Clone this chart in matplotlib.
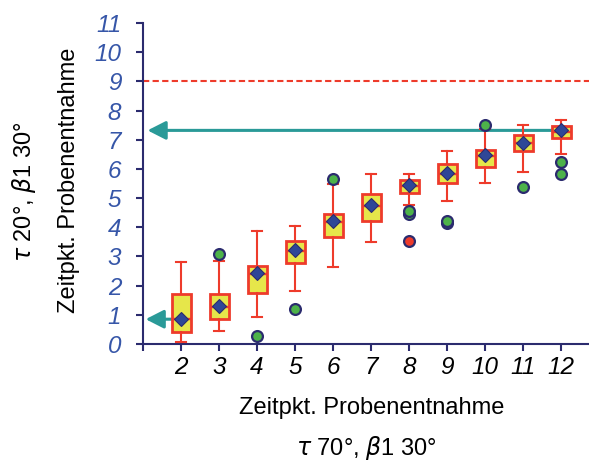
import matplotlib
matplotlib.use("Agg")
import matplotlib.pyplot as plt

# ---- data ----
positions = [2, 3, 4, 5, 6, 7, 8, 9, 10, 11, 12]
whislo = [0.07, 0.46, 0.93, 1.82, 2.65, 3.49, 4.77, 4.89, 5.51, 5.89, 6.51]
q1     = [0.41, 0.84, 1.74, 2.77, 3.67, 4.20, 5.18, 5.51, 6.08, 6.60, 7.06]
med    = [0.85, 1.28, 2.39, 3.20, 4.18, 4.72, 5.40, 5.84, 6.44, 6.88, 7.25]
q3     = [1.71, 1.71, 2.69, 3.53, 4.46, 5.14, 5.61, 6.16, 6.64, 7.16, 7.47]
whishi = [2.82, 2.83, 3.88, 4.03, 5.49, 5.82, 5.82, 6.60, 7.38, 7.50, 7.67]
means  = [0.87, 1.31, 2.42, 3.23, 4.22, 4.75, 5.44, 5.87, 6.47, 6.90, 7.32]
outliers = [[], [3.10], [0.27], [1.21], [5.67], [], [4.46, 4.57], [4.15, 4.23],
            [7.51], [5.37], [5.84, 6.25]]
red_outlier_x = [8]
red_outlier_y = [3.52]

limit_value = 9
arrow_top_y = 7.32
arrow_bottom_y = 0.85

xticks = list(range(1, 13))
xticklabels = [""] + [str(v) for v in range(2, 13)]
yticks = list(range(0, 12))

navy = "#2B2B6E"
blue_lbl = "#3656A8"
red = "#EE3B2B"
yellow = "#E6E64A"
green = "#4DB24A"
teal = "#2A9A98"
diamond = "#2E4797"

fig = plt.figure(figsize=(5.89, 4.61), dpi=100)
ax = fig.add_axes([143/589, 1 - 344/461, 1 - 143/589, (344 - 23)/461])

stats = []
for i in range(len(positions)):
    stats.append(dict(med=med[i], q1=q1[i], q3=q3[i], whislo=whislo[i],
                      whishi=whishi[i], mean=means[i], fliers=outliers[i]))

# reference lines / arrows (behind boxes)
ax.axhline(limit_value, color=red, lw=1.5, ls=(0, (3, 1.6)), zorder=1)
ax.annotate("", xy=(1.12, arrow_top_y), xytext=(positions[-1], arrow_top_y),
            arrowprops=dict(arrowstyle="-|>,head_length=0.55,head_width=0.28",
                            color=teal, lw=2.2, mutation_scale=20, shrinkA=0, shrinkB=0),
            zorder=1)
ax.annotate("", xy=(1.07, arrow_bottom_y), xytext=(positions[0], arrow_bottom_y),
            arrowprops=dict(arrowstyle="-|>,head_length=0.55,head_width=0.28",
                            color=teal, lw=2.2, mutation_scale=20, shrinkA=0, shrinkB=0),
            zorder=1)

ax.bxp(stats, positions=positions, widths=0.5, patch_artist=True, showmeans=True,
       showfliers=True, capwidths=0.27,
       boxprops=dict(facecolor=yellow, edgecolor=red, linewidth=2.0),
       medianprops=dict(color=red, linewidth=1.7),
       whiskerprops=dict(color=red, linewidth=1.5),
       capprops=dict(color=red, linewidth=1.5),
       meanprops=dict(marker="D", markerfacecolor=diamond, markeredgecolor=navy,
                      markersize=7.5, markeredgewidth=0.8),
       flierprops=dict(marker="o", markerfacecolor=green, markeredgecolor=navy,
                       markersize=7.8, markeredgewidth=1.6),
       manage_ticks=False, zorder=3)

ax.plot(red_outlier_x, red_outlier_y, ls="none", marker="o", markerfacecolor=red,
        markeredgecolor=navy, markersize=7.8, markeredgewidth=1.6, zorder=4)

ax.set_xlim(1, 1 + (589 - 143) / 38)
ax.set_ylim(0, 11)
ax.set_xticks(xticks)
ax.set_xticklabels(xticklabels, fontfamily="Liberation Sans", style="italic",
                   fontsize=17.5, color="black")
ax.set_yticks(yticks)
ax.set_yticklabels([str(v) for v in yticks], fontfamily="Liberation Sans",
                   style="italic", fontsize=17.5, color=blue_lbl)
for s in ["top", "right"]:
    ax.spines[s].set_visible(False)
for s in ["left", "bottom"]:
    ax.spines[s].set_color(navy)
    ax.spines[s].set_linewidth(1.5)
ax.tick_params(axis="both", direction="out", length=4.7, width=1.5, color=navy)
ax.tick_params(axis="x", pad=4)
ax.tick_params(axis="y", pad=11)

fig.text(372/589, 1 - 408/461, "Zeitpkt. Probenentnahme", ha="center", va="center",
         fontfamily="Liberation Sans", fontsize=17)
fig.text(366/589, 1 - 448/461, r"$\tau$ 70°, $\beta$1 30°", ha="center", va="center",
         fontfamily="Liberation Sans", fontsize=17)
fig.text(69/589, 1 - 180/461, "Zeitpkt. Probenentnahme", ha="center", va="center",
         rotation=90, fontfamily="Liberation Sans", fontsize=17)
fig.text(24/589, 1 - 192/461, r"$\tau$ 20°, $\beta$1 30°", ha="center", va="center",
         rotation=90, fontfamily="Liberation Sans", fontsize=17)

fig.savefig("out.png", dpi=100)
